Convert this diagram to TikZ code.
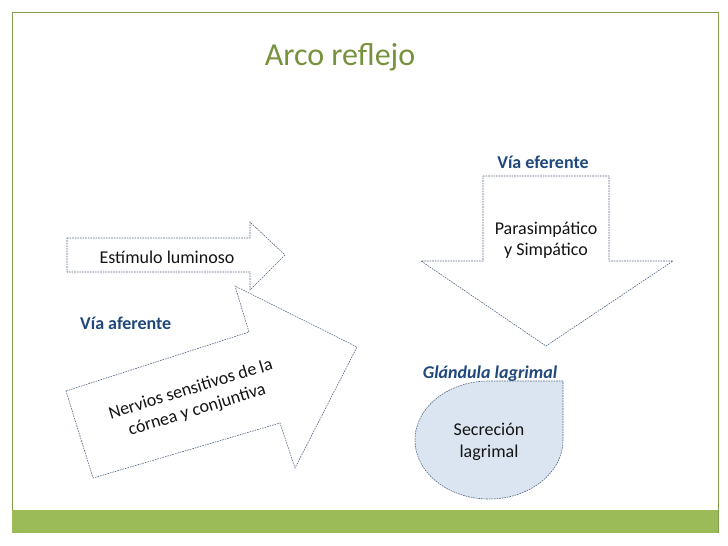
\documentclass[tikz,border=0pt]{standalone}
\usepackage{fontspec}
\setmainfont{Carlito}
\definecolor{olive}{RGB}{155,187,89}
\definecolor{titlegreen}{RGB}{118,146,60}
\definecolor{darkblue}{RGB}{31,73,125}
\definecolor{dashcol}{RGB}{80,100,130}
\definecolor{dropfill}{RGB}{219,229,241}
\definecolor{txt}{RGB}{20,20,20}
\begin{document}
\begin{tikzpicture}[x=1pt,y=-1pt,
  dashline/.style={draw=dashcol,line width=0.6pt,dash pattern=on 1.6pt off 1pt},
  body/.style={text=txt,font=\fontsize{18}{21.5}\selectfont,align=center,inner sep=0pt},
  lab/.style={text=darkblue,font=\fontsize{18}{21.5}\selectfont\bfseries,inner sep=0pt}]
\useasboundingbox (0,0) rectangle (728,546);
\fill[white] (0,0) rectangle (728,546);
% frame and bar
\draw[olive!85!black,line width=0.7pt] (12,533) -- (12,12) -- (718,12) -- (718,533);
\fill[olive] (12,510) rectangle (718,533);
% title
\node[text=titlegreen,font=\fontsize{32}{36}\selectfont,inner sep=0pt] (title) at (340,57) {Arco reflejo};
% Estímulo arrow
\draw[dashline,fill=white] (67,238) -- (250,238) -- (250,222) -- (285,255) -- (250,290) -- (250,272) -- (67,272) -- cycle;
\node[body] (estimulo) at (167,257) {Estímulo luminoso};
% Nervios arrow
\draw[dashline,fill=white] (66,391) -- (249,332) -- (235,286) -- (357,347) -- (295,468) -- (280,423) -- (93,478) -- cycle;
\node[body,rotate=17] (nervios) at (194,400) {Nervios sensitivos de la\\córnea y conjuntiva};
\node[lab,anchor=west] (aferente) at (80,323) {Vía aferente};
% efferent arrow
\node[lab] (eferente) at (543,162) {Vía eferente};
\draw[dashline,fill=white] (483,176) -- (609,176) -- (609,261) -- (673,261) -- (546,346) -- (421,261) -- (483,261) -- cycle;
\node[body] (para) at (546,240) {Parasimpático\\y Simpático};
% gland
\node[lab,font=\fontsize{18}{21.5}\selectfont\bfseries\itshape] (glandula) at (490,374) {Glándula lagrimal};
\draw[dashline,fill=dropfill] (563,381) -- (489,381) arc[start angle=-90,end angle=-360,x radius=74,y radius=59] -- cycle;
\node[body] (secrecion) at (489,442) {Secreción\\lagrimal};
\end{tikzpicture}
\end{document}
